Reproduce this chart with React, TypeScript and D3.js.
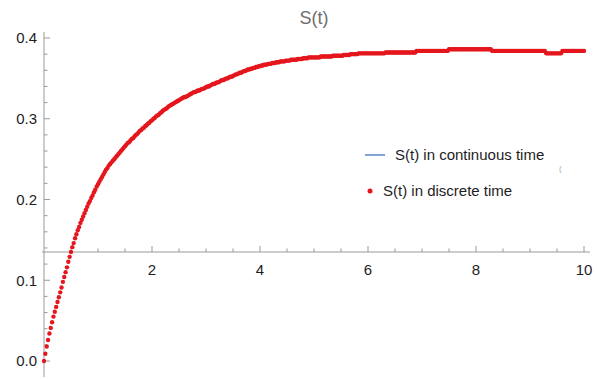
import React from "react";
import * as d3 from "d3";

const title = "S(t)";
const dt = 0.025;
// S(t) in discrete time, sampled every dt from t = 0 to t = 10
const discreteS: number[] = [
  0, 0.009, 0.018, 0.026, 0.034, 0.041, 0.048, 0.055, 0.061, 0.067,
  0.073, 0.079, 0.085, 0.091, 0.098, 0.104, 0.11, 0.116, 0.123, 0.129,
  0.135, 0.141, 0.146, 0.152, 0.157, 0.162, 0.166, 0.171, 0.175, 0.179,
  0.183, 0.187, 0.191, 0.195, 0.198, 0.202, 0.205, 0.209, 0.212, 0.216,
  0.219, 0.222, 0.225, 0.228, 0.231, 0.234, 0.237, 0.239, 0.242, 0.244,
  0.246, 0.248, 0.25, 0.252, 0.254, 0.256, 0.258, 0.26, 0.262, 0.264,
  0.266, 0.268, 0.27, 0.271, 0.273, 0.275, 0.276, 0.278, 0.28, 0.281,
  0.283, 0.285, 0.286, 0.288, 0.289, 0.291, 0.292, 0.294, 0.295, 0.297,
  0.298, 0.3, 0.301, 0.303, 0.304, 0.305, 0.307, 0.308, 0.31, 0.311,
  0.312, 0.313, 0.315, 0.316, 0.317, 0.318, 0.319, 0.32, 0.321, 0.322,
  0.323, 0.324, 0.325, 0.326, 0.327, 0.327, 0.328, 0.329, 0.33, 0.331,
  0.332, 0.333, 0.333, 0.334, 0.335, 0.335, 0.336, 0.337, 0.337, 0.338,
  0.339, 0.34, 0.34, 0.341, 0.342, 0.343, 0.343, 0.344, 0.345, 0.345,
  0.346, 0.347, 0.348, 0.348, 0.349, 0.35, 0.35, 0.351, 0.352, 0.352,
  0.353, 0.354, 0.355, 0.355, 0.356, 0.357, 0.357, 0.358, 0.359, 0.359,
  0.36, 0.361, 0.361, 0.362, 0.362, 0.363, 0.363, 0.364, 0.364, 0.365,
  0.365, 0.366, 0.366, 0.367, 0.367, 0.367, 0.368, 0.368, 0.368, 0.369,
  0.369, 0.369, 0.37, 0.37, 0.37, 0.371, 0.371, 0.371, 0.371, 0.372,
  0.372, 0.372, 0.372, 0.373, 0.373, 0.373, 0.373, 0.373, 0.374, 0.374,
  0.374, 0.374, 0.375, 0.375, 0.375, 0.375, 0.376, 0.376, 0.376, 0.376,
  0.376, 0.376, 0.376, 0.376, 0.376, 0.377, 0.377, 0.377, 0.377, 0.377,
  0.377, 0.377, 0.377, 0.377, 0.378, 0.378, 0.378, 0.378, 0.378, 0.378,
  0.378, 0.378, 0.379, 0.379, 0.379, 0.379, 0.379, 0.38, 0.38, 0.38,
  0.38, 0.38, 0.38, 0.381, 0.381, 0.381, 0.381, 0.381, 0.381, 0.381,
  0.381, 0.381, 0.381, 0.381, 0.381, 0.381, 0.381, 0.381, 0.381, 0.381,
  0.381, 0.381, 0.381, 0.382, 0.382, 0.382, 0.382, 0.382, 0.382, 0.382,
  0.382, 0.382, 0.382, 0.382, 0.382, 0.382, 0.382, 0.382, 0.382, 0.382,
  0.382, 0.382, 0.382, 0.382, 0.382, 0.382, 0.384, 0.384, 0.384, 0.384,
  0.384, 0.384, 0.384, 0.384, 0.384, 0.384, 0.384, 0.384, 0.384, 0.384,
  0.384, 0.384, 0.384, 0.384, 0.384, 0.384, 0.384, 0.384, 0.384, 0.384,
  0.386, 0.386, 0.386, 0.386, 0.386, 0.386, 0.386, 0.386, 0.386, 0.386,
  0.386, 0.386, 0.386, 0.386, 0.386, 0.386, 0.386, 0.386, 0.386, 0.386,
  0.386, 0.386, 0.386, 0.386, 0.386, 0.386, 0.386, 0.386, 0.386, 0.386,
  0.386, 0.386, 0.384, 0.384, 0.384, 0.384, 0.384, 0.384, 0.384, 0.384,
  0.384, 0.384, 0.384, 0.384, 0.384, 0.384, 0.384, 0.384, 0.384, 0.384,
  0.384, 0.384, 0.384, 0.384, 0.384, 0.384, 0.384, 0.384, 0.384, 0.384,
  0.384, 0.384, 0.384, 0.384, 0.384, 0.384, 0.384, 0.384, 0.384, 0.384,
  0.384, 0.384, 0.381, 0.381, 0.381, 0.381, 0.381, 0.381, 0.381, 0.381,
  0.381, 0.381, 0.381, 0.381, 0.384, 0.384, 0.384, 0.384, 0.384, 0.384,
  0.384, 0.384, 0.384, 0.384, 0.384, 0.384, 0.384, 0.384, 0.384, 0.384,
  0.384,
];
const xMajorTicks = [2, 4, 6, 8, 10];
const xMinorTicks = [0.5, 1, 1.5, 2.5, 3, 3.5, 4.5, 5, 5.5, 6.5, 7, 7.5, 8.5, 9, 9.5];
const yMajorTicks = [0, 0.1, 0.2, 0.3, 0.4];
const yTickLabels = ["0.0", "0.1", "0.2", "0.3", "0.4"];
const yMinorStep = 0.02;
const axisCrossY = 0.135;
const legendLabels = ["S(t) in continuous time", "S(t) in discrete time"];

const W = 597;
const H = 379;
const font = "Liberation Sans, Arial, sans-serif";

export default function App() {
  const x = d3.scaleLinear().domain([0, 10]).range([44, 584]);
  const y = d3.scaleLinear().domain([0, 0.4]).range([361, 38]);
  const axisY = y(axisCrossY);
  const yMinor = d3.range(0, 0.41, yMinorStep).filter(
    (v) => !yMajorTicks.some((m) => Math.abs(m - v) < 1e-6)
  );
  const axisColor = "#9a9a9a";
  const red = "#e5161d";
  return (
    <svg
      width={W}
      height={H}
      style={{ position: "absolute", left: 0, top: 0, background: "#fff" }}
    >
      <rect width={W} height={H} fill="#fff" />
      <text x={314} y={24} textAnchor="middle" fontFamily={font} fontSize={18} fill="#6e6e6e">
        {title}
      </text>
      {/* y axis */}
      <line x1={x(0)} x2={x(0)} y1={32} y2={377} stroke={axisColor} strokeWidth={1} />
      {yMajorTicks.map((v, i) => (
        <g key={"ym" + i}>
          <line x1={x(0)} x2={x(0) + 6} y1={y(v)} y2={y(v)} stroke={axisColor} />
          <text x={37} y={y(v)} dy="0.35em" textAnchor="end" fontFamily={font} fontSize={15} fill="#1e1e1e">
            {yTickLabels[i]}
          </text>
        </g>
      ))}
      {yMinor.map((v, i) => (
        <line key={"yn" + i} x1={x(0)} x2={x(0) + 3.5} y1={y(v)} y2={y(v)} stroke={axisColor} />
      ))}
      {/* x axis */}
      <line x1={42} x2={590} y1={axisY} y2={axisY} stroke={axisColor} strokeWidth={1} />
      {xMajorTicks.map((v) => (
        <g key={"xm" + v}>
          <line x1={x(v)} x2={x(v)} y1={axisY} y2={axisY - 6} stroke={axisColor} />
          <text x={x(v)} y={275} textAnchor="middle" fontFamily={font} fontSize={15} fill="#1e1e1e">
            {v}
          </text>
        </g>
      ))}
      {xMinorTicks.map((v) => (
        <line key={"xn" + v} x1={x(v)} x2={x(v)} y1={axisY} y2={axisY - 3.5} stroke={axisColor} />
      ))}
      {/* discrete-time points */}
      {discreteS.map((v, i) => (
        <circle key={"p" + i} cx={x(i * dt)} cy={y(v)} r={2.2} fill={red} />
      ))}
      {/* legend */}
      <line x1={365} x2={385} y1={155} y2={155} stroke="#5b84c4" strokeWidth={1.5} />
      <text x={395} y={155} dy="0.35em" fontFamily={font} fontSize={15} fill="#1e1e1e">
        {legendLabels[0]}
      </text>
      <circle cx={370} cy={191} r={2.5} fill={red} />
      <text x={383} y={191} dy="0.35em" fontFamily={font} fontSize={15} fill="#1e1e1e">
        {legendLabels[1]}
      </text>
      <text x={559} y={171} fontFamily={font} fontSize={8} fill="#aaa">(</text>
    </svg>
  );
}
